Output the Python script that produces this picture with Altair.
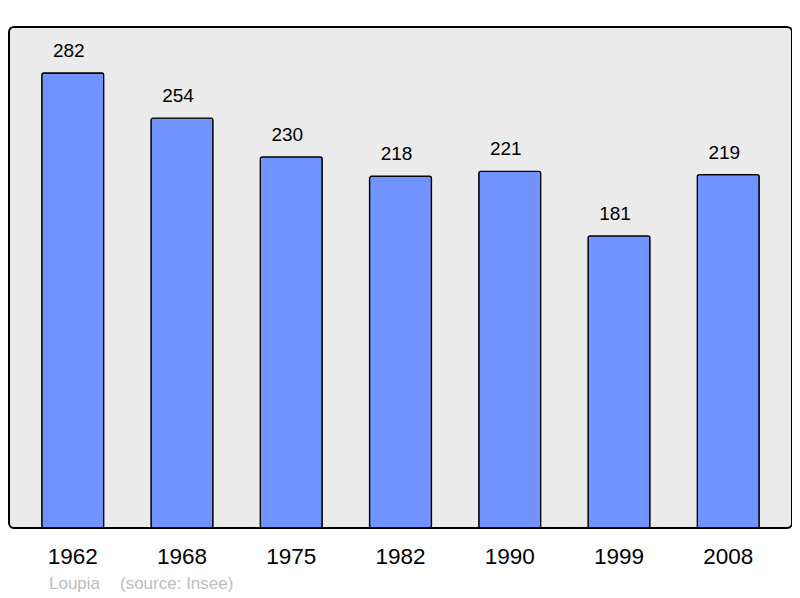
import altair as alt
import pandas as pd

years = ["1962", "1968", "1975", "1982", "1990", "1999", "2008"]
population = [282, 254, 230, 218, 221, 181, 219]
place = "Loupia"
source = "(source: Insee)"

df = pd.DataFrame({"year": years, "pop": population})

W, H = 783, 501

xscale = alt.Scale(domain=years, paddingInner=0.433, paddingOuter=0.3)
yscale = alt.Scale(domain=[0, 310.5], nice=False, zero=True)

base = alt.Chart(df)

frame = alt.Chart(pd.DataFrame({"a": [0]})).mark_rect(
    fill="#EBEBEB", stroke="black", strokeWidth=2, cornerRadius=5
).encode(x=alt.value(0), x2=alt.value(W), y=alt.value(0), y2=alt.value(H))

bars = base.mark_bar(
    color="#7093FF", stroke="black", strokeWidth=1.3, cornerRadius=2
).encode(
    x=alt.X("year:N", scale=xscale, axis=None),
    y=alt.Y("pop:Q", scale=yscale, axis=None),
)

values = base.mark_text(
    fontSize=19, font="Liberation Sans", baseline="middle", dy=-22, dx=-4, color="black"
).encode(
    x=alt.X("year:N", scale=xscale, axis=None),
    y=alt.Y("pop:Q", scale=yscale, axis=None),
    text="pop:Q",
)

xlabels = base.mark_text(
    fontSize=22.5, font="Liberation Sans", baseline="middle", color="black"
).encode(
    x=alt.X("year:N", scale=xscale, axis=None),
    y=alt.value(529.5),
    text="year:N",
)

cap_df = pd.DataFrame({"t": [place, source], "px": [40, 111]})
caption = alt.Chart(cap_df).mark_text(
    fontSize=17, font="Liberation Sans", baseline="middle", align="left", color="#BDBDBD"
).encode(
    x=alt.X("px:Q", scale=None),
    y=alt.value(556.5),
    text="t:N",
)

chart = alt.layer(frame, bars, values, xlabels, caption).properties(
    width=W, height=H,
    autosize=alt.AutoSizeParams(type="none"),
    padding={"left": 1, "top": 19, "right": 0, "bottom": 70},
).configure_view(stroke=None).configure(background="white")

chart.save("out.html", embed_options={"renderer": "svg", "actions": False})
